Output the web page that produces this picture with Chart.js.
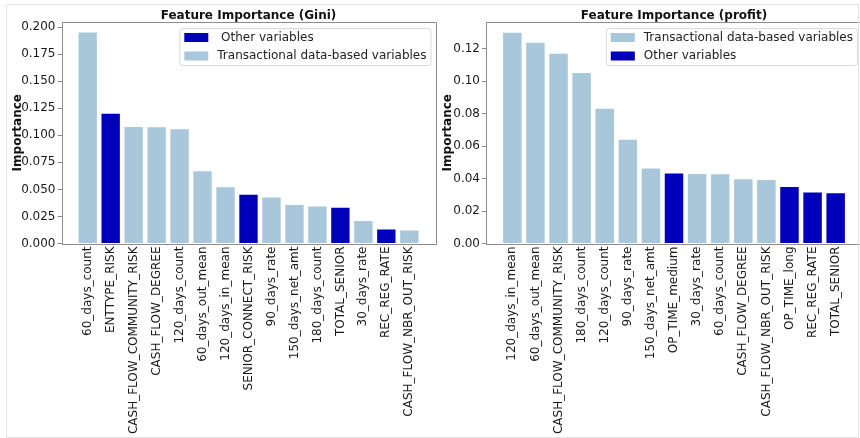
<!DOCTYPE html>
<html>
<head>
<meta charset="utf-8">
<script src="https://cdn.jsdelivr.net/npm/chart.js@4"></script>
<style>
  body { margin: 0; width: 860px; height: 438px; overflow: hidden; background: #fff; position: relative; }
  canvas { position: absolute; top: 0; }
  #frame { position: absolute; left: 6px; top: 4px; width: 851px; height: 432px; border: 1px solid #e4e4e4; pointer-events: none; }
</style>
</head>
<body>
<canvas id="gini" width="440" height="438" style="left:0"></canvas>
<canvas id="profit" width="440" height="438" style="left:430px"></canvas>
<div id="frame"></div>
<script>
// left panel - Gini
const giniLabels = ['60_days_count', 'ENTTYPE_RISK', 'CASH_FLOW_COMMUNITY_RISK', 'CASH_FLOW_DEGREE', '120_days_count',
  '60_days_out_mean', '120_days_in_mean', 'SENIOR_CONNECT_RISK', '90_days_rate', '150_days_net_amt',
  '180_days_count', 'TOTAL_SENIOR', '30_days_rate', 'REC_REG_RATE', 'CASH_FLOW_NBR_OUT_RISK'];
const giniValues = [0.195, 0.120, 0.1077, 0.1075, 0.1055, 0.0667, 0.052, 0.045, 0.0426, 0.0355, 0.0343, 0.033, 0.0207, 0.013, 0.012];
const giniOther = [false, true, false, false, false, false, false, true, false, false, false, true, false, true, false];
const giniTicks = [0, 0.025, 0.05, 0.075, 0.1, 0.125, 0.15, 0.175, 0.2];

// right panel - profit
const profitLabels = ['120_days_in_mean', '60_days_out_mean', 'CASH_FLOW_COMMUNITY_RISK', '180_days_count', '120_days_count',
  '90_days_rate', '150_days_net_amt', 'OP_TIME_medium', '30_days_rate', '60_days_count',
  'CASH_FLOW_DEGREE', 'CASH_FLOW_NBR_OUT_RISK', 'OP_TIME_long', 'REC_REG_RATE', 'TOTAL_SENIOR'];
const profitValues = [0.1298, 0.1237, 0.1169, 0.105, 0.0831, 0.064, 0.0462, 0.0431, 0.0429, 0.0427, 0.0396, 0.0391, 0.0348, 0.0314, 0.031];
const profitOther = [false, false, false, false, false, false, false, true, false, false, false, false, true, true, true];
const profitTicks = [0, 0.02, 0.04, 0.06, 0.08, 0.10, 0.12];

const LIGHT = '#a8c7db';
const DARK = '#0000bb';

Chart.defaults.font.family = "'DejaVu Sans', sans-serif";
Chart.defaults.font.size = 12;
Chart.defaults.color = '#222';

// title, box frame and in-plot legend
const panelDecor = {
  id: 'panelDecor',
  afterDatasetsDraw(chart, args, opts) {
    const ctx = chart.ctx;
    const a = chart.chartArea;
    ctx.save();
    ctx.strokeStyle = '#8c8c8c';
    ctx.lineWidth = 1;
    ctx.strokeRect(Math.round(a.left) + 0.5, Math.round(a.top) + 0.5, Math.round(a.right - a.left), Math.round(a.bottom - a.top));

    ctx.fillStyle = '#111';
    ctx.font = "bold 12px 'DejaVu Sans'";
    ctx.textAlign = 'center';
    ctx.textBaseline = 'middle';
    ctx.fillText(opts.title, (a.left + a.right) / 2, 15.5);

    ctx.font = "12px 'DejaVu Sans'";
    let w = 0;
    opts.items.forEach(it => { w = Math.max(w, ctx.measureText(it.text).width); });
    const boxW = 5 + 24 + 9 + w + 4;
    const right = a.right - 5;
    const left = right - boxW;
    const top = a.top + 6;
    ctx.fillStyle = 'rgba(255,255,255,0.85)';
    ctx.strokeStyle = '#d8d8d8';
    ctx.beginPath();
    ctx.roundRect(left + 0.5, top + 0.5, boxW, 37, 3);
    ctx.fill();
    ctx.stroke();
    ctx.textAlign = 'left';
    opts.items.forEach((it, i) => {
      const cy = top + 9.5 + i * 18.5;
      ctx.fillStyle = it.color;
      ctx.fillRect(left + 5, cy - 4.5, 24, 9);
      ctx.fillStyle = '#222';
      ctx.fillText(it.text, left + 5 + 24 + 9, cy);
    });
    ctx.restore();
  }
};

function makePanel(id, labels, values, other, ticks, decimals, yMax, xMax, plotLeft, padRight, title, items) {
  return new Chart(document.getElementById(id), {
    type: 'bar',
    data: {
      datasets: [{
        data: values.map((v, i) => ({ x: i, y: v })),
        backgroundColor: other.map(o => o ? DARK : LIGHT),
        borderWidth: 0,
        barPercentage: 0.8,
        categoryPercentage: 1.0
      }]
    },
    options: {
      responsive: false,
      animation: false,
      layout: { padding: { left: 0, right: padRight, top: 22, bottom: 0 } },
      plugins: {
        legend: { display: false },
        tooltip: { enabled: false },
        panelDecor: { title: title, items: items }
      },
      scales: {
        x: {
          type: 'linear',
          offset: false,
          min: -1.14,
          max: xMax,
          afterBuildTicks: s => { s.ticks = labels.map((l, i) => ({ value: i })); },
          afterFit: s => { s.height = 438 - 243.5; },
          grid: { offset: false, drawOnChartArea: false, drawTicks: false },
          border: { display: false },
          ticks: {
            autoSkip: false,
            maxRotation: 90,
            minRotation: 90,
            padding: 3,
            color: '#1a1a1a',
            font: { size: 12 },
            callback: v => labels[v]
          }
        },
        y: {
          min: 0,
          max: yMax,
          afterBuildTicks: s => { s.ticks = ticks.map(v => ({ value: v })); },
          afterFit: s => { s.width = plotLeft; },
          grid: { drawOnChartArea: false, drawTicks: true, tickLength: 4, color: '#8c8c8c' },
          border: { display: false },
          ticks: { padding: 2, color: '#1a1a1a', callback: v => v.toFixed(decimals) },
          title: {
            display: true,
            text: 'Importance',
            font: { weight: 'bold', size: 12 },
            color: '#111',
            padding: { top: 11, bottom: 0 }
          }
        }
      }
    },
    plugins: [panelDecor]
  });
}

makePanel('gini', giniLabels, giniValues, giniOther, giniTicks, 3, 0.2047, 15.14, 61.5, 4.5,
  'Feature Importance (Gini)',
  [{ text: ' Other variables', color: DARK }, { text: 'Transactional data-based variables', color: LIGHT }]);

makePanel('profit', profitLabels, profitValues, profitOther, profitTicks, 2, 0.1365, 15.14, 56, 8,
  'Feature Importance (profit)',
  [{ text: 'Transactional data-based variables', color: LIGHT }, { text: 'Other variables', color: DARK }]);
</script>
</body>
</html>
